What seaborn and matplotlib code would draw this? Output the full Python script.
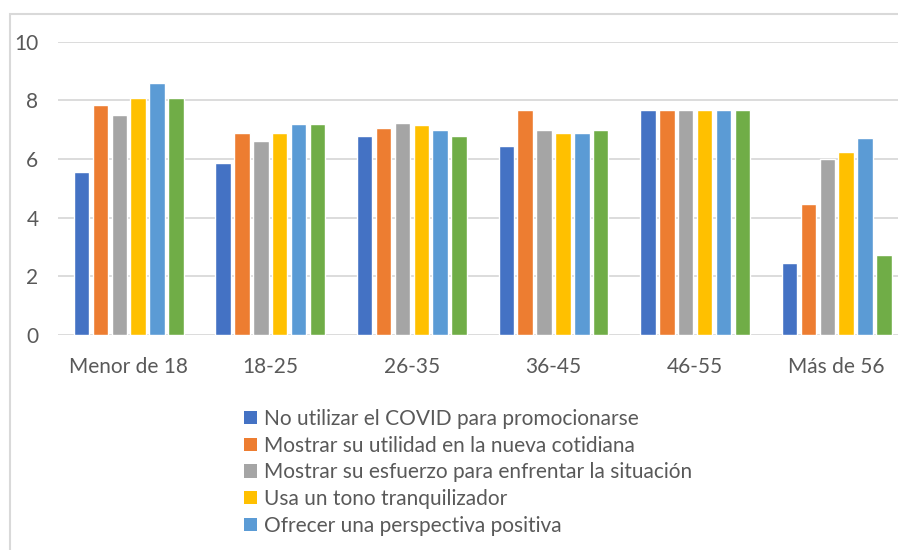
import matplotlib
matplotlib.use("Agg")
import matplotlib.pyplot as plt
from matplotlib.patches import Patch, Rectangle
import seaborn as sns
import pandas as pd

# Age groups on the x axis
grupos = ["Menor de 18", "18-25", "26-35", "36-45", "46-55", "Más de 56"]

# Communication strategies (one bar per strategy in every group)
series = [
    "No utilizar el COVID para promocionarse",
    "Mostrar su utilidad en la nueva cotidiana",
    "Mostrar su esfuerzo para enfrentar la situación",
    "Usa un tono tranquilizador",
    "Ofrecer una perspectiva positiva",
    "Otra",
]

# Average score per strategy, in the same order as the age groups
no_covid = [5.55, 5.87, 6.77, 6.44, 7.68, 2.47]
utilidad = [7.84, 6.89, 7.06, 7.68, 7.68, 4.48]
esfuerzo = [7.51, 6.60, 7.22, 6.98, 7.68, 6.00]
tranquilizador = [8.08, 6.89, 7.15, 6.89, 7.68, 6.24]
positiva = [8.58, 7.18, 6.98, 6.89, 7.68, 6.73]
otra = [8.08, 7.18, 6.77, 6.98, 7.68, 2.72]

valores = [no_covid, utilidad, esfuerzo, tranquilizador, positiva, otra]
colores = ["#4472C4", "#ED7D31", "#A5A5A5", "#FFC000", "#5B9BD5", "#70AD47"]

df = pd.DataFrame(
    [(g, s, v) for s, vals in zip(series, valores) for g, v in zip(grupos, vals)],
    columns=["grupo", "serie", "valor"],
)

W, H = 898, 550
fig = plt.figure(figsize=(W / 100, H / 100), dpi=100)
sns.set_style("white")
plt.rcParams["font.family"] = ["Lato", "DejaVu Sans"]

txt = "#595959"
fs = 15

# plot area in pixel coordinates (left, bottom, right, top from top edge)
x0, x1 = 57.9, 907.5
y_top, y_bot = 41.7, 335.0
ax = fig.add_axes([x0 / W, 1 - y_bot / H, (x1 - x0) / W, (y_bot - y_top) / H])

sns.barplot(
    data=df, x="grupo", y="valor", hue="serie", order=grupos, hue_order=series,
    palette=colores, width=0.8, gap=0.18, saturation=1, legend=False, ax=ax,
)

ax.set_xlim(-0.5, len(grupos) - 0.5)
ax.set_ylim(0, 10)
ax.set_yticks(range(0, 11, 2))
ax.yaxis.grid(True, color="#d9d9d9", linewidth=1.3)
ax.set_axisbelow(True)
for sp in ax.spines.values():
    sp.set_visible(False)
ax.set_xlabel("")
ax.set_ylabel("")
ax.tick_params(axis="both", length=0, labelcolor=txt, labelsize=fs)
ax.tick_params(axis="y", pad=14)
ax.tick_params(axis="x", pad=16)

# outer chart frame
fig.patches.append(Rectangle((10 / W, -0.1), 1.2, 1 - 14 / H + 0.1,
                             transform=fig.transFigure, fill=False,
                             edgecolor="#d9d9d9", linewidth=1.5, zorder=0))

handles = [Patch(facecolor=c, edgecolor="none") for c in colores[:5]]
fig.legend(
    handles, series[:5], loc="upper left",
    bbox_to_anchor=(244 / W, 1 - 409 / H), bbox_transform=fig.transFigure,
    frameon=False, fontsize=fs, labelcolor=txt, borderpad=0, borderaxespad=0,
    handlelength=0.62, handleheight=0.62, handletextpad=0.35, labelspacing=0.32,
)

fig.savefig("out.png", dpi=100)
